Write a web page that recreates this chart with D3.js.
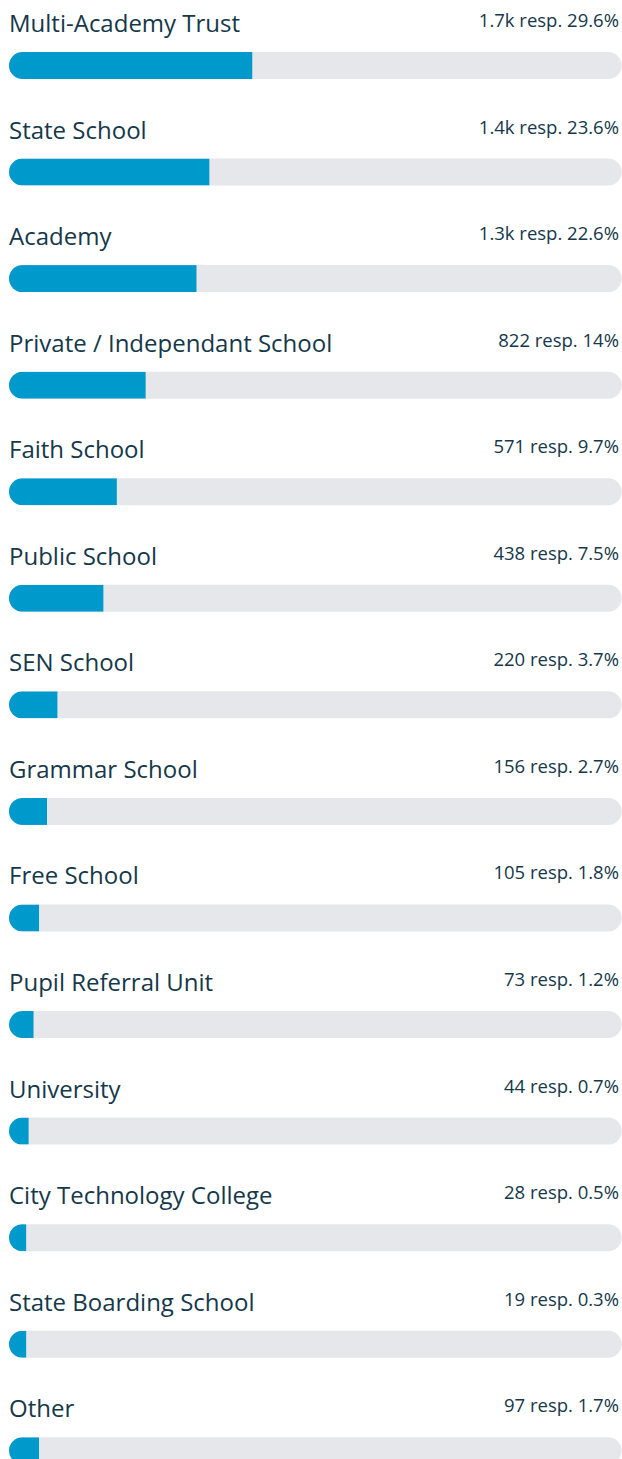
<!DOCTYPE html>
<html>
<head>
<meta charset="utf-8">
<script src="https://cdn.jsdelivr.net/npm/d3@7"></script>
<style>
    body { margin: 0; background: #fff; }
    text { font-family: "Open Sans", sans-serif; fill: #15384a; }
</style>
</head>
<body>
<div id="chart"></div>
<script>
const width = 622;
const height = 1459;

const margin = { top: 52, left: 9, right: 0 };

// DATA
const categories = [
    "Multi-Academy Trust", "State School", "Academy", "Private / Independant School",
    "Faith School", "Public School", "SEN School", "Grammar School", "Free School",
    "Pupil Referral Unit", "University", "City Technology College",
    "State Boarding School", "Other"
];
const responses = ["1.7k", "1.4k", "1.3k", "822", "571", "438", "220", "156", "105", "73", "44", "28", "19", "97"];
const percents = ["29.6%", "23.6%", "22.6%", "14%", "9.7%", "7.5%", "3.7%", "2.7%", "1.8%", "1.2%", "0.7%", "0.5%", "0.3%", "1.7%"];
// filled share of each track (% of track length)
const barFill = [39.7, 32.7, 30.6, 22.3, 17.6, 15.4, 7.9, 6.2, 4.9, 4.0, 3.2, 2.8, 2.8, 4.9];

const rowStep = 106.56;
const barH = 27;

const svg = d3.select("#chart")
    .append("svg")
    .attr("width", width)
    .attr("height", height);

const x = d3.scaleLinear()
    .domain([0, 100])
    .range([margin.left, 621.7]);

const y = d3.scalePoint()
    .domain(categories)
    .range([margin.top, margin.top + rowStep * (categories.length - 1)]);

const rows = svg.selectAll(".row")
    .data(categories)
    .enter()
    .append("g")
    .attr("class", "row")
    .attr("transform", d => `translate(0,${y(d)})`);

// clip for rounded track
rows.append("clipPath")
    .attr("id", (d, i) => "clip" + i)
    .append("rect")
    .attr("x", x(0))
    .attr("width", x(100) - x(0))
    .attr("height", barH)
    .attr("rx", barH / 2);

// TRACK
rows.append("rect")
    .attr("x", x(0))
    .attr("width", x(100) - x(0))
    .attr("height", barH)
    .attr("rx", barH / 2)
    .attr("fill", "#e6e7eb");

// FILL
rows.append("rect")
    .attr("clip-path", (d, i) => `url(#clip${i})`)
    .attr("x", x(0))
    .attr("width", (d, i) => x(barFill[i]) - x(0))
    .attr("height", barH)
    .attr("fill", "#0099cc");

// LABELS
rows.append("text")
    .attr("x", x(0))
    .attr("y", -20)
    .style("font-size", "24px")
    .text(d => d);

rows.append("text")
    .attr("x", 619)
    .attr("y", -25)
    .attr("text-anchor", "end")
    .style("font-size", "18.5px")
    .text((d, i) => `${responses[i]} resp. ${percents[i]}`);
</script>
</body>
</html>
